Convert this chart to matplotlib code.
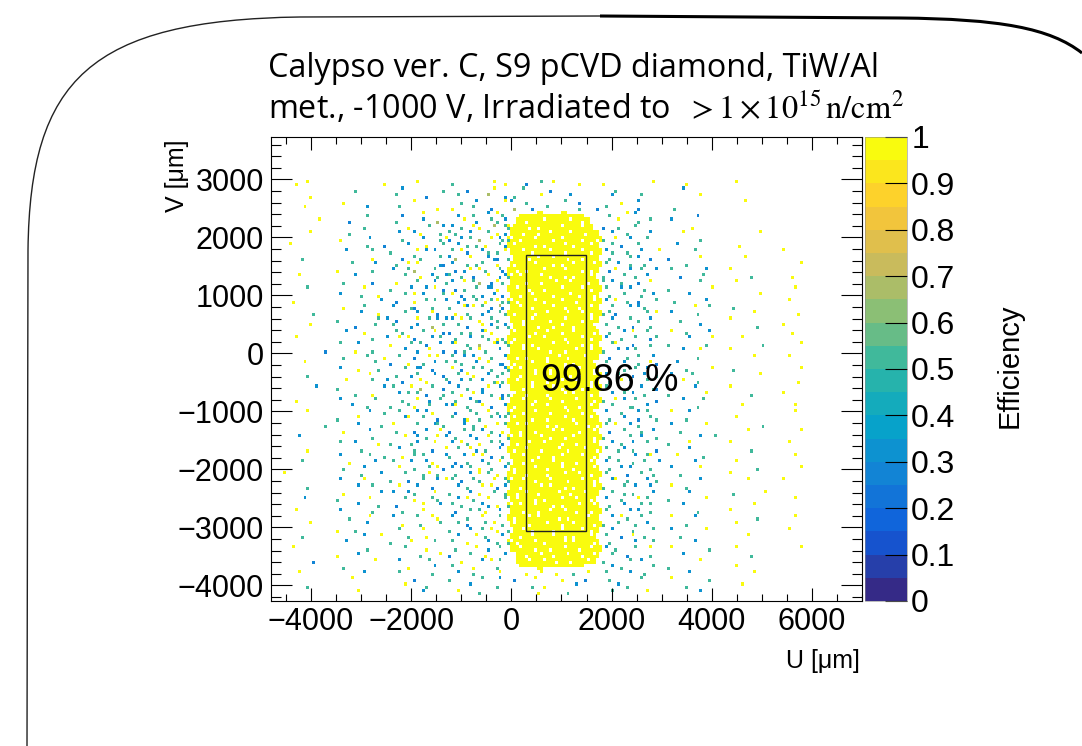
import numpy as np
import matplotlib
matplotlib.use('Agg')
import matplotlib.pyplot as plt
from matplotlib.colors import LinearSegmentedColormap, ListedColormap, Normalize
from matplotlib.patches import Rectangle, PathPatch
from matplotlib.path import Path
from matplotlib.transforms import Affine2D

plt.rcParams['font.family'] = ['Liberation Sans', 'DejaVu Sans']
plt.rcParams['mathtext.fontset'] = 'stix'

# histogram binning in um
U_MIN, U_MAX, NU = -4800, 7000, 200
V_MIN, V_MAX, NV = -4270, 3730, 150

# region of interest (black box) and its mean efficiency
ROI_U = [300, 1480]
ROI_V = [-3070, 1690]
ROI_EFF = 99.86
EFF_TEXT_POS = [1960, -480]

# cell maps, top row first.
# each char = 2x2 bins.  noise letters fill one bin, block chars the 2x2 group
LEFT = [
    "", "", "", "", "", "", "",
    "....Y.z... .........Y ....y..... S......y.Z",
    ".......... ....T..... ..p......T ...B...y..",
    "......Z... .......... .s....B... .t....g..P",
    ".......... ..Y....... ....z..... ..T.b....y",
    ".....y.... ......p... .t......Y. Z...s..B..",
    ".......... ......T... ..B..y.... .P..T.b.zT",
    "........z. ...B...... .T...b..G. ..y.P..sTb",
    ".......... .....S.... ...Y..t..p b.T.zY.g.t",
    "......y... ...T...... .b..pY..S. sT.b..t.YP",
    ".......... .Z....b... ..T..b..Sy B.pt.G.zbT",
    "...z...... ......T..B ...p..Y..s .b.TS.Y.tP",
    ".......... ..b....s.. T...y.pb.. t.zB.bS.Ty",
    ".....T.... .......Y.. ..B.sT..t. pG.y..bPB.",
    ".......... ...t...b.. .T.zy...PB b..TSt..Y.",
    ".......... .Y.....T.. b..sG..t.. .BPy.zT.tB",
    "....y..... ....p..... ..t..Y.pTb s.T.B.y.Pb",
    ".......... ..T....B.. .Y..t..b.S b.y.sG.BzT",
    "......s... .....y.... T..b..py.B .BS.t.bpY.",
    ".......... .b...T..Y. ..t.zb...s y.B.TP.b.B",
    "...Z...... ........b. .B..Y.st.b .Pb.t.YszT",
    ".......... ..Y..t.... b..SB..T.. T.ypzt.BgB",
    ".......T.. .....p..Y. ..t.b..zB. .Y.T.Pb.tS",
    ".......... .T......sb .B..y.t.pb b.zt.Y.sT.",
    "......y... ....B..t.. t..Pb..G.s .t.B.y.pTb",
    ".......... ..b..Z.... .sT..t.y.B B.TS.bzY..",
    "....z..... .......T.b .y.zB..pt. .T.b.tS.YT",
    ".......... .t..b..... Y..t.sB.b. bz.T.G.ypt",
    ".........B ....Y..T.. ..b.P.y..B .BSt.zT.b.",
    ".......... ..T...s..Y .t..B.y.z. t.b.pY.T.b",
    ".....y.... .......t.. B..Y.S.b.t .sT.b.y.PB",
    ".......... .b..Z...T. ..t.bp.B.. y.B.st.T.b",
    "......T... ......y... .T.Pt..b.B .t.zY.b.Ts",
    ".......... ..y....s.b ..B..zY..t B.pt.b.SYT",
    ".......b.. .T.......p t..y.G.s.B .b.T.Py.b.",
    ".......... ....T..Y.. .b.st.B..T t.Y.zb.T.B",
    "....Y..... .b.....t.. ..T.y.P.t. .T.bSB..yp",
    ".......... ...b..T... T..sY.t..b bz.T.y.B.b",
    "......z... ......b..T .t..b.pY.. .B.tS.y.T.",
    ".......... .T..y..... ..bz.t..B. t.PY.T.sbt",
    ".........T ....b...S. y...t..bsT ..b.T.Y.zt",
    ".......... ..Y...b... .T..B.p.y. B.t.sb.T.Y",
    "....b..... .......T.. ..y.b.T.zb .T.bP.y.b.",
    ".......... .t..p...Y. T..Sb..y.. b.zT.Y.stB",
    "......Y... .....T.... .b..T..B.y .t.yP.T.b.",
    ".......... .b....t..T ..Y.st...b T.b.zy.B.T",
    ".....s.... ...Y...b.. t..b..pY.. .B.T.bS.y.",
    ".......... ..T..b.... .y..T.t.zB b.pt.Y.T.b",
    "..z....... .....T..b. ..t..Sy.T. .T.b.zt.Y.",
    ".......... .b...y.... T..B.t..py t.B.sT.y.t",
    "......T... ....b..s.. .y..b..B.. .b.T.y.zBb",
    ".......... ..Y.....b. b..pT..y.. T..b.Y.t.S",
    ".....b.... .T....y... ..t.Y..sT. .b.zT.y..t",
    ".......... ....b...T. .B...y..b. t.T..bP.Y.",
    "....z..... .b.....T.. ..T..y.... .B.t.sY.b.",
    ".......... ...T..y... b...t..zY. b..T.y..t.",
    "......y... ......p... ..Y..T..t. .t.B..sy.T",
    ".......... .Y..T..... .t...y.... T..b.t.zY.",
    ".....T.... .....b..y. ...T..Y... .b..y.T..p",
    ".......... ..b....... T..y...t.. t..Y..b.T.",
    "...y...... ......T... ..t...Y... .T..y.P.t.",
    ".......... .Y..b..... .....T..y. B..t..Y..b",
    ".......B.. .......y.. .b....t... ..Y..b.zt.",
    ".......... ..T....... ...Y...b.. t...Y...T.",
    "....y..... .....b.... .t.....T.. .b..T...y.",
    ".......... ...y...... ....B..... T....t..b.",
    "......T... .......... ..y...T... ...b....T.",
    ".......... ....y..... .....b.... .y...T....",
    "",
]

BLOCK = [
    "", "", "", "", "", "", "",
    "...B.t.y ....Y...",
    "..t....B ........",
    ".T...y.. ..b.....",
    "b..T.... .t..B...",
    ".G..B.t. ....T..B",
    "..vvv#vv v#vvv...",
    ".h#1##3# ##4#2#..",
    "e##2#1## #3##4#j.",
    "h#2##1#3 ##4##1#j",
    "e#1#4##2 #3##2##1",
    "#3##2#1# #4#1##3j",
    "h#4#1##3 #2##4#1#",
    "T##2#3#4 ##1#2##j",
    "h1##4##2 #1#3##4#",
    "#2#1##3# #4##2#1j",
    "e#3##4#1 #2#1##3.",
    "h##1#2## 3#4##2#j",
    "#4#2##1# #3##4#1#",
    "h#1#3##2 ##4#1#2j",
    "e2##4#1# #3#2##4#",
    "h#3#1##4 #2##1#3j",
    "#1##2#4# ##3#4#1#",
    "h#2#3##1 #4##2#3j",
    "T#4##1#2 #3#1##4.",
    "h3##2#4# #1#3##2j",
    "#1#4##3# #2##4#1#",
    "e#2#1##4 ##3#2#1j",
    "h#4##3#1 #2#4##3#",
    "#2#1##2# 4#1##3#j",
    "h1##3#4# #2#1##4.",
    "e#3#2##1 #4##3#2j",
    "h#1#4##3 ##2#1#4#",
    "#4##1#2# #3#4##1j",
    "h#2#3##4 #1##2#3#",
    "T3#1##2# #4#3##1j",
    "h#4#2##3 #1#4##2#",
    "#1##3#4# #2##1#3j",
    "e#2#4##1 ##3#2#4.",
    "h3##1#2# #4#1##3j",
    "#4#3##2# 1##4#2#1",
    "h#1#2##4 #3##1#4j",
    "e#3##4#1 #2#3##2#",
    "h2#4##3# #1#2##4j",
    "#1#3#2## 4#1##3#1",
    "h#4##1#2 #3##4#2j",
    "T#2#3##4 #1#2##3.",
    "h1##4#2# #3#1##4j",
    "#3#1##2# #4##3#1#",
    "e#4#2##3 ##1#4#2j",
    "h#1##4#3 #2#1##4#",
    "#2#3#1## 4#2##3#j",
    "h4##2#1# #3#4##1.",
    "e#3#4##2 #1##3#4j",
    "h#2##1#3 #4#2##1#",
    "#1#4#3## 2#1##4#j",
    "h3#2##4# #1#3##2#",
    "T#4#1##2 #3##4#1j",
    "h#1#3##4 #2#1##3.",
    "e2##4#1# #4#3##2j",
    "h#3#2##1 #4##1#3#",
    ".h#1#4#2 ##3#2#4j",
    ".h#4##3# 1#2##4#.",
    "..^^^#^^ ^^^^^...",
    "...Y.y.. Y..T.y..",
    ".B..y... .Y...B..",
    "....T.Y. ...b....",
    ".....Y.. ..T.....",
    "",
]

RIGHT = [
    "", "", "", "", "", "", "",
    "Y.......y. ....Y..... ..y....... .......... ....",
    "..T....... ...b...... .......... .......... ....",
    ".b....t... ......y... .......... .......... ....",
    "...Y..p... .......... ....z..... .......... ....",
    "t.....B... ..T....... .......... .......... ....",
    ".T..zb.... ......B... .......... .......... ....",
    "..y...T.s. .b........ .......... .......... ....",
    "B.S..t.... .....Y.... .......... .......... ....",
    ".b..T...p. ...y...... ......y... .......... ....",
    "T.z.b..t.. ......S... .......... .......... ....",
    ".t.B..s... ..b....... ...Y...... .......... ....",
    "bS..T.b..y .....t.... .......... y......... ....",
    ".T..t.p.B. .B....y... ....z..... .......... ....",
    "t.b.S..T.. ....T..... .......... ...y...... ....",
    ".Bz.b.t..p .t.....b.. .y........ .......... ....",
    "T..t.S.b.. ...B...s.. .....T.... ..Y....... ....",
    "sb.T..B.z. ......t... ..y....... .......... ....",
    "t..pb..T.. .T......y. .......... ..y....... ....",
    ".T.t..S.b. ....b..... ......y... .......... ....",
    "b.z.T.B..s ..T....b.. .......... .y........ ....",
    ".t..b.pT.. .....y..s. ..T....... .......... ....",
    "TsB....t.z .b....T... .....y.... ...Y...... ....",
    ".b..t.T.p. ...T...... .y........ .......... ....",
    "t.S..B..T. ......b... ......T... y......... ....",
    ".T.b.z.t.. .y..T...p. .......... ..Y....... ....",
    "b..T.t..Bs ....b...y. ...y...... .......... ....",
    ".tz..B..T. .T.....S.. .......T.. ...y...... ....",
    "T.b.pt.... ...b..y... .y........ .......... ....",
    ".B..T.s.b. ......T... .....y.... .y........ ....",
    "t..b..T.zB ..b....... .......... .......... ....",
    ".T.S.t.b.. ....T...y. ..T....... ...y...... ....",
    "b.t..B.p.T .b...s.... ......y... .......... ....",
    ".T.zb..t.. ...y..T... .......... ...Y...... ....",
    "t...T.b.SB .....b.... .y........ .......... ....",
    ".b.t.p.T.. .T.....y.. .....T.... y......... ....",
    "T.zb.t...B ...b...s.. .......... .......... ....",
    ".t..ST.b.. ......T... ...y...... ..y....... ....",
    "b..T..pt.. .y..b..... .......... ..y....... ....",
    ".T.b..B.sT ....T..... ..y....... .......... ....",
    "t.z.b.T... .b.....y.. .......T.. .......... ....",
    ".B.t..S.b. ...T...... ....y..... ...y...... ....",
    "T...t.b..T ......b..s .......... .......... ....",
    ".b.T.p.t.. .T..y..... .y........ .y........ ....",
    "t.Sb.T...B ....b..... .....T.... .......... ....",
    ".T...b.tz. ..y....T.. .......... ..y....... ....",
    "b.t..T.s.b .....b.... ..y....... .......... ....",
    ".T.pb...T. .b....y... ......T... ...y...... ....",
    "t...B.t.S. ...T...... .y........ .......... ....",
    ".bz.T..b.T ......b... ....y..... y......... ....",
    "T..t.b..p. .y..T..... .......... .......... ....",
    ".t.S.T..b. ....b..... ..T....y.. .......... ....",
    "b..T..zt.. .T.....y.. .......... ..y....... ....",
    ".T.b..t.s. ...b...... .....y.... .......... ....",
    "t...b.p.T. ......T... .y........ .......... ....",
    ".b.zT.t... .y...b.... ......T... ..y....... ....",
    "T.t..S.b.. ....T..... ..y....... .......... ....",
    ".b...T..t. .b.....y.. .......... .y........ ....",
    "t..B.z.T.. ...T...... ....y..... .......... ....",
    ".T...b..t. .....b.... .......... .......... ....",
    "b.T..t..z. .y......T. ..y....... ...y...... ....",
    ".t..B...T. ...b...... .....T.... .......... ....",
    "T...t.b... ......y... .......... .......... ....",
    ".b.T....t. .T........ ..y....... .......... ....",
    "t...b..T.. ....b..... .....y.... .......... ....",
    ".T....t... .y......T. .......... .......... ....",
    "..b.T..... ....T..... ...y...... .......... ....",
    ".t.....y.. ......b... .......... .......... ....",
    "",
]

# efficiency and sub-bin per noise letter
NOISE = {'Y': (1.0, 0, 0), 'y': (1.0, 1, 1), 'Z': (1.0, 1, 0), 'z': (1.0, 0, 1),
         'T': (0.5, 0, 0), 't': (0.5, 1, 1), 'S': (0.5, 1, 0), 's': (0.5, 0, 1),
         'B': (0.25, 0, 0), 'b': (1 / 3, 1, 1), 'P': (1 / 3, 1, 0), 'p': (1 / 3, 0, 1),
         'G': (2 / 3, 0, 0), 'g': (2 / 3, 1, 1)}
FULL = [(0, 0), (1, 0), (0, 1), (1, 1)]
CELLS = {'#': [(dx, dy, 1.0) for dx, dy in FULL],
         'h': [(1, 0, 1.0), (1, 1, 1.0)],
         'j': [(0, 0, 1.0), (0, 1, 1.0)],
         'v': [(0, 0, 1.0), (1, 0, 1.0)],
         '^': [(0, 1, 1.0), (1, 1, 1.0)],
         'e': [(0, 0, 0.5), (1, 0, 1.0), (0, 1, 1.0)]}
for k, hole in zip('1234', FULL):
    CELLS[k] = [(dx, dy, 1.0) for dx, dy in FULL if (dx, dy) != hole]
for k, (e, dx, dy) in NOISE.items():
    CELLS[k] = [(dx, dy, e)]

eff = np.full((NV, NU), np.nan)
nrows = len(LEFT)
for i in range(nrows):
    row = (LEFT[i].replace(' ', '').ljust(40, '.')[:40]
           + BLOCK[i].replace(' ', '').ljust(16, '.')[:16]
           + RIGHT[i].replace(' ', '').ljust(44, '.')[:44])
    r = nrows - 1 - i
    for c, ch in enumerate(row):
        for dx, dy, e in CELLS.get(ch, []):
            eff[2 * r + dy, 2 * c + dx] = e

# ROOT kBird palette, 20 contours
stops = [0, .125, .25, .375, .5, .625, .75, .875, 1]
red = [0.2082, 0.0592, 0.0780, 0.0232, 0.1802, 0.5301, 0.8186, 0.9956, 0.9764]
green = [0.1664, 0.3599, 0.5041, 0.6419, 0.7178, 0.7492, 0.7328, 0.7862, 0.9832]
blue = [0.5293, 0.8684, 0.8385, 0.7914, 0.6425, 0.4662, 0.3499, 0.1968, 0.0539]
bird = LinearSegmentedColormap.from_list('bird', list(zip(stops, zip(red, green, blue))))
cmap = ListedColormap([bird(k / 19) for k in range(20)])

W, H = 1082, 746
fig = plt.figure(figsize=(W / 100, H / 100), dpi=100)
ax = fig.add_axes([271 / W, 1 - 601 / H, 591 / W, 464 / H])
cax = fig.add_axes([865 / W, 1 - 601 / H, 42 / W, 464 / H])

u_edges = np.linspace(U_MIN, U_MAX, NU + 1)
v_edges = np.linspace(V_MIN, V_MAX, NV + 1)
mesh = ax.pcolormesh(u_edges, v_edges, np.ma.masked_invalid(eff), cmap=cmap,
                     norm=Normalize(0, 1))
ax.add_patch(Rectangle((ROI_U[0], ROI_V[0]), ROI_U[1] - ROI_U[0], ROI_V[1] - ROI_V[0],
                       fill=False, ec='#222222', lw=1))
ax.text(EFF_TEXT_POS[0], EFF_TEXT_POS[1], f'{ROI_EFF:.2f} %', fontsize=27,
        ha='center', va='center')

ax.set_xlim(U_MIN, U_MAX)
ax.set_ylim(V_MIN, V_MAX)
ax.set_xticks(np.arange(-4000, 6001, 2000))
ax.set_xticks(np.arange(-4500, 7001, 500), minor=True)
ax.set_yticks(np.arange(-4000, 3001, 1000))
ax.set_yticks(np.arange(-4200, 3701, 200), minor=True)
ax.tick_params(which='both', direction='in', top=True, right=True, labelsize=22,
               width=0.8)
ax.tick_params(axis='y', which='major', length=15, pad=5)
ax.tick_params(axis='y', which='minor', length=7.5)
ax.tick_params(axis='x', which='major', length=9.5, pad=4)
ax.tick_params(axis='x', which='minor', length=4.7)
for s in ax.spines.values():
    s.set_linewidth(0.8)

cb = fig.colorbar(mesh, cax=cax, ticks=np.arange(0, 1.01, 0.1))
cb.ax.set_yticklabels([f'{t:g}' for t in np.round(np.arange(0, 1.01, 0.1), 1)])
cb.ax.tick_params(direction='in', length=16, width=0.8, labelsize=23, pad=3)
cb.outline.set_linewidth(0.4)
cb.outline.set_edgecolor('#888888')

fig.text(177 / W, 1 - 139 / H, 'V [μm]', rotation=90, fontsize=18, ha='center', va='top')
fig.text(860 / W, 1 - 661 / H, 'U [μm]', fontsize=18, ha='right', va='center')
fig.text(1010 / W, 1 - 366 / H, 'Efficiency', rotation=90, fontsize=21,
         ha='center', va='center')

fig.text(268 / W, 1 - 77 / H, 'Calypso ver. C, S9 pCVD diamond, TiW/Al',
         family='Open Sans', fontsize=23.3, va='baseline')
fig.text(268 / W, 1 - 118 / H,
         r'met., -1000 V, Irradiated to  $>1\times10^{15}\,\mathrm{n/cm^{2}}$',
         family='Open Sans', fontsize=23.3, va='baseline')

# rounded page frame, in pixel coordinates from the top-left corner
px = Affine2D().scale(1 / W, -1 / H).translate(0, 1) + fig.transFigure
left_edge = Path([(27, 746), (28, 250), (30, 80), (90, 20), (300, 17), (600, 16)],
                 [Path.MOVETO, Path.LINETO, Path.CURVE4, Path.CURVE4, Path.CURVE4,
                  Path.LINETO])
right_edge = Path([(600, 16), (900, 18), (1000, 19), (1050, 28), (1082, 53)],
                  [Path.MOVETO, Path.LINETO, Path.CURVE4, Path.CURVE4, Path.CURVE4])
fig.add_artist(PathPatch(left_edge, fill=False, ec='#222222', lw=1.0, transform=px))
fig.add_artist(PathPatch(right_edge, fill=False, ec='black', lw=2.2, transform=px))

fig.savefig('out.png', dpi=100)
